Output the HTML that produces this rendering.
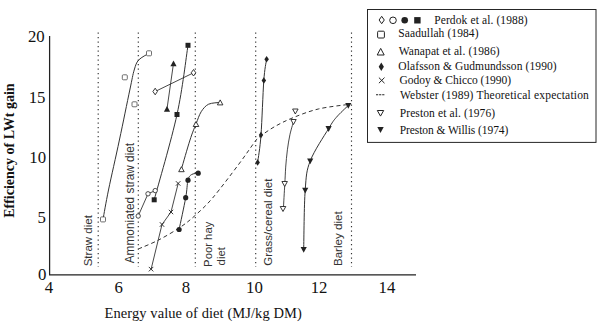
<!DOCTYPE html>
<html><head><meta charset="utf-8">
<style>
html,body{margin:0;padding:0;background:#fff;}
body{width:600px;height:322px;position:relative;overflow:hidden;}
svg{position:absolute;left:0;top:0;}
.t{position:absolute;white-space:nowrap;color:#111;line-height:1;}
.serif{font-family:"Liberation Serif",serif;}
.sans{font-family:"Liberation Sans",sans-serif;color:#333;}
</style></head><body>
<svg width="600" height="322" viewBox="0 0 600 322">
<line x1="98.2" y1="32.6" x2="98.2" y2="267" stroke="#333" stroke-width="1.15" stroke-dasharray="1.1 3.4"/>
<line x1="138.3" y1="32.6" x2="138.3" y2="267" stroke="#333" stroke-width="1.15" stroke-dasharray="1.1 3.4"/>
<line x1="195.3" y1="32.6" x2="195.3" y2="267" stroke="#333" stroke-width="1.15" stroke-dasharray="1.1 3.4"/>
<line x1="255.7" y1="32.6" x2="255.7" y2="267" stroke="#333" stroke-width="1.15" stroke-dasharray="1.1 3.4"/>
<line x1="351.5" y1="32.6" x2="351.5" y2="267" stroke="#333" stroke-width="1.15" stroke-dasharray="1.1 3.4"/>
<path d="M49.6 36 L49.6 274.9 L416 274.9" fill="none" stroke="#222" stroke-width="1.25"/>
<path d="M138.3 249.0 C141.7 247.5 151.7 243.6 158.6 240.0 C165.5 236.4 173.9 231.5 180.0 227.4 C186.1 223.3 189.8 220.3 195.2 215.4 C200.6 210.5 205.3 206.5 212.6 198.0 C219.8 189.5 231.6 173.8 238.7 164.3 C245.8 154.9 251.6 146.0 255.2 141.3 C258.8 136.6 256.8 138.8 260.2 136.3 C263.6 133.8 269.8 129.3 275.4 126.2 C280.9 123.1 286.4 120.4 293.5 117.5 C300.6 114.6 309.2 111.2 318.3 109.0 C327.4 106.8 343.1 105.2 348.0 104.5" fill="none" stroke="#333" stroke-width="1.00" stroke-dasharray="4 3"/>
<path d="M103.0 219.4 C103.9 214.5 105.8 203.2 108.5 190.0 C111.2 176.8 115.9 156.7 119.4 140.0 C123.0 123.3 127.3 101.7 129.8 90.0 C132.3 78.3 132.7 75.0 134.2 70.0 C135.7 65.0 136.2 62.8 138.7 60.0 C141.2 57.2 147.3 54.4 149.0 53.3" fill="none" stroke="#333" stroke-width="1.00"/>
<polyline points="138.2,216.0 148.0,193.8 155.2,190.6" fill="none" stroke="#333" stroke-width="0.90"/>
<path d="M154.2 199.8 C158.0 185.6 171.4 140.2 177.0 114.5 C182.6 88.8 186.2 56.8 188.0 45.3" fill="none" stroke="#333" stroke-width="1.00"/>
<polyline points="155.2,91.5 193.5,72.8" fill="none" stroke="#333" stroke-width="0.90"/>
<polyline points="167.0,108.8 173.5,63.3" fill="none" stroke="#333" stroke-width="0.90"/>
<path d="M179.1 229.5 C180.2 224.2 184.2 205.9 185.7 197.7 C187.2 189.5 187.0 184.0 188.0 180.2 C189.0 176.3 189.8 175.8 191.5 174.6 C193.2 173.4 197.1 173.4 198.2 173.2" fill="none" stroke="#333" stroke-width="1.00"/>
<path d="M181.4 169.2 C182.8 164.3 187.6 147.5 190.0 140.0 C192.4 132.5 194.1 128.7 196.0 124.0 C197.9 119.3 199.1 115.0 201.2 111.7 C203.3 108.4 205.4 105.8 208.6 104.2 C211.8 102.7 218.3 102.7 220.2 102.4" fill="none" stroke="#333" stroke-width="1.00"/>
<polyline points="151.1,269.2 162.0,224.5 171.0,212.0 178.2,183.4" fill="none" stroke="#333" stroke-width="0.90"/>
<path d="M257.6 162.6 C258.2 158.0 260.0 148.7 261.0 135.0 C262.0 121.3 262.9 93.2 263.8 80.6 C264.7 68.0 266.1 62.8 266.6 59.2" fill="none" stroke="#333" stroke-width="1.00"/>
<path d="M293.6 121.3 C293.0 123.5 290.9 130.1 289.9 134.8 C288.9 139.6 288.1 144.4 287.4 149.8 C286.7 155.2 286.1 161.4 285.7 167.1 C285.3 172.8 285.2 177.1 284.8 184.0 C284.4 190.9 283.6 204.6 283.4 208.7" fill="none" stroke="#333" stroke-width="0.90"/>
<path d="M348.3 105.4 C346.3 107.4 339.6 113.5 336.3 117.4 C333.0 121.3 333.0 121.3 328.6 128.6 C324.2 135.9 314.1 150.8 310.2 161.0 C306.3 171.2 306.3 175.4 305.2 190.1 C304.1 204.8 303.9 239.4 303.7 249.3" fill="none" stroke="#333" stroke-width="1.00"/>
<rect x="100.5" y="216.9" width="5.0" height="5.0" rx="1.0" fill="#fff" stroke="#555" stroke-width="0.85"/>
<rect x="122.3" y="74.8" width="5.0" height="5.0" rx="1.0" fill="#fff" stroke="#555" stroke-width="0.85"/>
<rect x="132.0" y="101.8" width="5.0" height="5.0" rx="1.0" fill="#fff" stroke="#555" stroke-width="0.85"/>
<rect x="146.5" y="50.8" width="5.0" height="5.0" rx="1.0" fill="#fff" stroke="#555" stroke-width="0.85"/>
<circle cx="138.2" cy="216.0" r="2.2" fill="#fff" stroke="#222" stroke-width="0.8"/>
<circle cx="148.0" cy="193.8" r="2.2" fill="#fff" stroke="#222" stroke-width="0.8"/>
<circle cx="155.2" cy="190.6" r="2.2" fill="#fff" stroke="#222" stroke-width="0.8"/>
<rect x="151.7" y="197.3" width="5.0" height="5.0" fill="#222"/>
<rect x="174.5" y="112.0" width="5.0" height="5.0" fill="#222"/>
<rect x="185.5" y="42.8" width="5.0" height="5.0" fill="#222"/>
<polygon points="155.2,88.2 157.4,91.5 155.2,94.8 152.9,91.5" fill="#fff" stroke="#222" stroke-width="0.9"/>
<polygon points="193.5,69.5 195.8,72.8 193.5,76.0 191.2,72.8" fill="#fff" stroke="#222" stroke-width="0.9"/>
<polygon points="163.9,111.7 170.1,111.7 167.0,105.9" fill="#222"/>
<polygon points="170.4,66.2 176.6,66.2 173.5,60.4" fill="#222"/>
<circle cx="179.1" cy="229.5" r="2.6" fill="#222"/>
<circle cx="185.7" cy="197.7" r="2.6" fill="#222"/>
<circle cx="188.0" cy="180.2" r="2.6" fill="#222"/>
<circle cx="198.2" cy="173.2" r="2.6" fill="#222"/>
<polygon points="178.7,171.7 184.2,171.7 181.4,166.7" fill="#fff" stroke="#222" stroke-width="0.9"/>
<polygon points="193.2,126.5 198.8,126.5 196.0,121.5" fill="#fff" stroke="#222" stroke-width="0.9"/>
<polygon points="217.4,104.9 222.9,104.9 220.2,99.9" fill="#fff" stroke="#222" stroke-width="0.9"/>
<path d="M148.8 266.9 L153.3 271.4 M153.3 266.9 L148.8 271.4" stroke="#222" stroke-width="0.9"/>
<path d="M159.8 222.2 L164.2 226.8 M164.2 222.2 L159.8 226.8" stroke="#222" stroke-width="0.9"/>
<path d="M168.8 209.8 L173.2 214.2 M173.2 209.8 L168.8 214.2" stroke="#222" stroke-width="0.9"/>
<path d="M175.9 181.2 L180.4 185.7 M180.4 181.2 L175.9 185.7" stroke="#222" stroke-width="0.9"/>
<polygon points="257.6,159.3 259.9,162.6 257.6,165.8 255.4,162.6" fill="#222"/>
<polygon points="261.0,131.8 263.2,135.0 261.0,138.2 258.8,135.0" fill="#222"/>
<polygon points="263.8,77.3 266.1,80.6 263.8,83.8 261.6,80.6" fill="#222"/>
<polygon points="266.6,56.0 268.9,59.2 266.6,62.5 264.4,59.2" fill="#222"/>
<polygon points="292.6,109.0 298.1,109.0 295.3,114.0" fill="#fff" stroke="#222" stroke-width="0.9"/>
<polygon points="290.8,119.5 296.2,119.5 293.5,124.5" fill="#fff" stroke="#222" stroke-width="0.9"/>
<polygon points="281.9,181.5 287.4,181.5 284.7,186.5" fill="#fff" stroke="#222" stroke-width="0.9"/>
<polygon points="280.2,206.5 285.8,206.5 283.0,211.5" fill="#fff" stroke="#222" stroke-width="0.9"/>
<polygon points="345.2,102.9 351.4,102.9 348.3,108.7" fill="#222"/>
<polygon points="325.5,126.1 331.7,126.1 328.6,131.9" fill="#222"/>
<polygon points="307.1,158.5 313.3,158.5 310.2,164.3" fill="#222"/>
<polygon points="302.1,187.7 308.3,187.7 305.2,193.5" fill="#222"/>
<polygon points="300.6,246.9 306.8,246.9 303.7,252.7" fill="#222"/>
<rect x="367.5" y="9.5" width="228.5" height="132.9" fill="none" stroke="#262626" stroke-width="1"/>
<polygon points="381.7,16.3 384.3,20 381.7,23.7 379.1,20" fill="#fff" stroke="#222" stroke-width="1"/>
<circle cx="393" cy="20.3" r="3.3" fill="#fff" stroke="#222" stroke-width="1"/>
<circle cx="404.7" cy="20.3" r="3.3" fill="#222"/>
<rect x="414.2" y="17.1" width="6.4" height="6.4" fill="#222"/>
<rect x="377.6" y="31.2" width="6.8" height="6.8" rx="1" fill="#fff" stroke="#222" stroke-width="1"/>
<polygon points="377.2,55 384.2,55 380.7,48.4" fill="#fff" stroke="#222" stroke-width="1"/>
<polygon points="381.3,62.4 383.9,66.7 381.3,71 378.7,66.7" fill="#222"/>
<path d="M378.9 77.6 L384.5 83.2 M384.5 77.6 L378.9 83.2" stroke="#222" stroke-width="1"/>
<path d="M376 94.7 H384.4" stroke="#222" stroke-width="1.1" stroke-dasharray="2.2 0.9"/>
<polygon points="377.3,110.5 383.7,110.5 380.5,116.1" fill="#fff" stroke="#222" stroke-width="1"/>
<polygon points="377.3,127 383.7,127 380.5,133" fill="#222"/>
</svg>
<div class="t serif" style="right:555.3px;top:29.0px;font-size:16.8px;height:16px;line-height:16px;">20</div>
<div class="t serif" style="right:554.6px;top:90.0px;font-size:16.8px;height:16px;line-height:16px;">15</div>
<div class="t serif" style="right:553.9px;top:150.0px;font-size:16.8px;height:16px;line-height:16px;">10</div>
<div class="t serif" style="right:554.1px;top:210.0px;font-size:16.8px;height:16px;line-height:16px;">5</div>
<div class="t serif" style="right:553.7px;top:267.0px;font-size:16.8px;height:16px;line-height:16px;">0</div>
<div class="t serif" style="left:28.9px;width:40px;text-align:center;top:280px;font-size:16.8px;line-height:16px;">4</div>
<div class="t serif" style="left:98.6px;width:40px;text-align:center;top:280px;font-size:16.8px;line-height:16px;">6</div>
<div class="t serif" style="left:166.0px;width:40px;text-align:center;top:280px;font-size:16.8px;line-height:16px;">8</div>
<div class="t serif" style="left:234.5px;width:40px;text-align:center;top:280px;font-size:16.8px;line-height:16px;">10</div>
<div class="t serif" style="left:299.1px;width:40px;text-align:center;top:280px;font-size:16.8px;line-height:16px;">12</div>
<div class="t serif" style="left:366.9px;width:40px;text-align:center;top:280px;font-size:16.8px;line-height:16px;">14</div>
<div class="t serif" style="left:104.6px;top:305.5px;font-size:14.5px;line-height:15px;letter-spacing:0.07px;">Energy value of diet (MJ/kg DM)</div>
<div class="t serif" style="left:0;top:0;font-size:14px;font-weight:bold;line-height:14px;transform-origin:0 0;transform:translate(2.7px,217.8px) rotate(-90deg);">Efficiency of LWt gain</div>
<div class="t serif" style="left:434.2px;top:13.8px;font-size:11.5px;line-height:12px;letter-spacing:0.11px;">Perdok et al. (1988)</div>
<div class="t serif" style="left:398.3px;top:27.2px;font-size:11.5px;line-height:12px;letter-spacing:0.09px;">Saadullah (1984)</div>
<div class="t serif" style="left:398.7px;top:44.5px;font-size:11.5px;line-height:12px;letter-spacing:0.11px;">Wanapat et al. (1986)</div>
<div class="t serif" style="left:398.3px;top:59.8px;font-size:11.5px;line-height:12px;letter-spacing:0.1px;">Olafsson &amp; Gudmundsson (1990)</div>
<div class="t serif" style="left:399.6px;top:74.2px;font-size:11.5px;line-height:12px;letter-spacing:-0.03px;">Godoy &amp; Chicco (1990)</div>
<div class="t serif" style="left:400px;top:89.2px;font-size:11.5px;line-height:12px;letter-spacing:0.19px;">Webster (1989) Theoretical expectation</div>
<div class="t serif" style="left:399.7px;top:107.3px;font-size:11.5px;line-height:12px;letter-spacing:0.11px;">Preston et al. (1976)</div>
<div class="t serif" style="left:399.7px;top:124.3px;font-size:11.5px;line-height:12px;letter-spacing:-0.07px;">Preston &amp; Willis (1974)</div>
<div class="t sans" style="left:0;top:0;font-size:11.5px;line-height:11.5px;transform-origin:0 0;transform:translate(82.5px,266.3px) rotate(-90deg);">Straw diet</div>
<div class="t sans" style="left:0;top:0;font-size:11.85px;line-height:11.85px;transform-origin:0 0;transform:translate(125.0px,263.3px) rotate(-90deg);">Ammoniated straw diet</div>
<div class="t sans" style="left:0;top:0;font-size:11.3px;line-height:11.3px;transform-origin:0 0;transform:translate(203.0px,266.9px) rotate(-90deg);">Poor hay</div>
<div class="t sans" style="left:0;top:0;font-size:11.3px;line-height:11.3px;transform-origin:0 0;transform:translate(216.0px,265.4px) rotate(-90deg);">diet</div>
<div class="t sans" style="left:0;top:0;font-size:11.55px;line-height:11.55px;transform-origin:0 0;transform:translate(263.0px,265.8px) rotate(-90deg);">Grass/cereal diet</div>
<div class="t sans" style="left:0;top:0;font-size:11.6px;line-height:11.6px;transform-origin:0 0;transform:translate(331.6px,266.1px) rotate(-90deg);">Barley diet</div>
</body></html>
